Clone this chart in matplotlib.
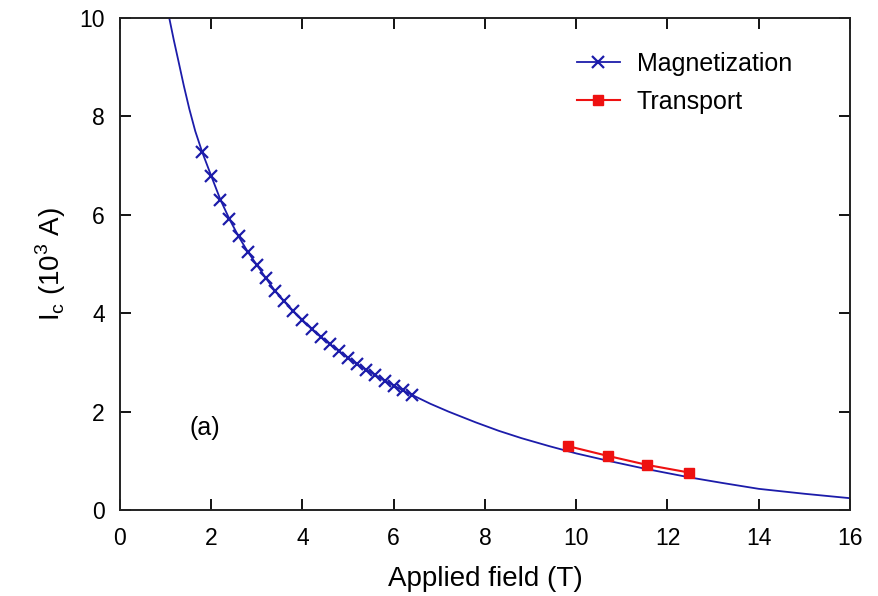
import matplotlib
matplotlib.use("Agg")
import matplotlib.pyplot as plt
from matplotlib.lines import Line2D

plt.rcParams['font.family'] = ['Liberation Sans', 'DejaVu Sans']
plt.rcParams['mathtext.fontset'] = 'custom'
plt.rcParams['mathtext.rm'] = 'Liberation Sans'

# Fit curve
fit_x = [1.08, 1.18, 1.28, 1.40, 1.52, 1.65, 1.8, 2.0, 2.2, 2.4, 2.6, 2.8, 3.0, 3.2, 3.4,
         3.6, 3.8, 4.0, 4.2, 4.4, 4.6, 4.8, 5.0, 5.2, 5.4, 5.6, 5.8, 6.0, 6.2, 6.4,
         6.8, 7.2, 7.8, 8.3, 8.8, 9.4, 10.0, 10.7, 11.5, 12.5, 13.2, 14.0, 15.0, 16.0]
fit_y = [10.0, 9.55, 9.13, 8.62, 8.15, 7.7, 7.28, 6.79, 6.31, 5.91, 5.56, 5.25, 4.98, 4.71, 4.45,
         4.24, 4.04, 3.86, 3.68, 3.52, 3.37, 3.23, 3.09, 2.96, 2.85, 2.74, 2.63, 2.53, 2.43, 2.34,
         2.16, 2.0, 1.78, 1.61, 1.46, 1.3, 1.15, 1.0, 0.84, 0.66, 0.55, 0.43, 0.33, 0.24]

# Magnetization data
mag_x = [1.8, 2.0, 2.2, 2.4, 2.6, 2.8, 3.0, 3.2, 3.4, 3.6, 3.8, 4.0, 4.2, 4.4, 4.6, 4.8,
         5.0, 5.2, 5.4, 5.6, 5.8, 6.0, 6.2, 6.4]
mag_y = [7.28, 6.79, 6.31, 5.91, 5.56, 5.25, 4.98, 4.71, 4.45, 4.24, 4.04, 3.86, 3.68, 3.52,
         3.37, 3.23, 3.09, 2.96, 2.85, 2.74, 2.63, 2.53, 2.43, 2.34]

# Transport data
tr_x = [9.81, 10.69, 11.56, 12.48]
tr_y = [1.30, 1.10, 0.915, 0.76]

blue = '#1c1caa'
red = '#ee1111'

fig = plt.figure(figsize=(8.79, 5.96), dpi=100)
ax = fig.add_axes([0.1365, 0.1443, 0.8305, 0.8255])

ax.plot(fit_x, fit_y, color=blue, lw=1.3, solid_joinstyle='round')
ax.plot(mag_x, mag_y, ls='none', marker='x', ms=8, mew=1.6, color=blue)
ax.plot(tr_x, tr_y, color=red, lw=1.5, marker='s', ms=6.5)

ax.set_xlim(0, 16)
ax.set_ylim(0, 10)
ax.set_xticks(range(0, 17, 2))
ax.set_yticks(range(0, 11, 2))
ax.tick_params(direction='in', top=True, right=True, length=8, width=1.3,
               labelsize=16.5)
ax.tick_params(axis='x', pad=12)
ax.tick_params(axis='y', pad=11)
for s in ax.spines.values():
    s.set_linewidth(1.4)
    s.set_color('#222222')

ax.set_xlabel('Applied field (T)', fontsize=20, labelpad=12)
ax.set_ylabel(r'I$_\mathregular{c}$ (10$^\mathregular{3}$ A)', fontsize=20, labelpad=8)

ax.text(1.86, 1.67, '(a)', fontsize=18, ha='center', va='center')

handles = [Line2D([], [], color=blue, lw=1.3, marker='x', ms=8, mew=1.6),
           Line2D([], [], color=red, lw=1.5, marker='s', ms=6.5)]
ax.legend(handles, ['Magnetization', 'Transport'], loc='upper left',
          bbox_to_anchor=(0.626, 0.931), borderaxespad=0, borderpad=0,
          frameon=False, fontsize=18,
          handlelength=1.72, handletextpad=0.68, labelspacing=0.57)

fig.savefig('out.png', dpi=100)
